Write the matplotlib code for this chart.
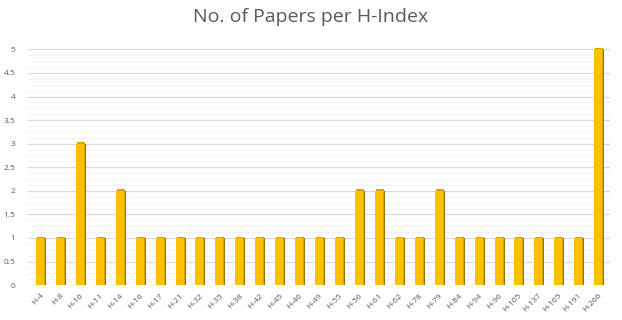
import numpy as np
import matplotlib
matplotlib.use("Agg")
import matplotlib.pyplot as plt

labels = ["H-4", "H-8", "H-10", "H-11", "H-14", "H-16", "H-17", "H-21", "H-32", "H-35",
          "H-38", "H-42", "H-45", "H-46", "H-49", "H-55", "H-56", "H-61", "H-62", "H-78",
          "H-79", "H-84", "H-94", "H-96", "H-105", "H-137", "H-165", "H-191", "H-266"]
papers = [1, 1, 3, 1, 2, 1, 1, 1, 1, 1,
          1, 1, 1, 1, 1, 1, 2, 2, 1, 1,
          2, 1, 1, 1, 1, 1, 1, 1, 5]

plt.rcParams['font.family'] = ['Open Sans', 'DejaVu Sans']

fig = plt.figure(figsize=(6.22, 3.2), dpi=100)
ax = fig.add_axes([0.045, 0.109, 0.936, 0.744])

x = np.arange(len(labels))
w = 0.4

# minor/major grid of the back wall
for v in np.arange(0, 5.01, 0.125):
    ax.axhline(v, color="#f0f0f0", lw=0.6, zorder=0)
for v in np.arange(0, 5.01, 0.5):
    ax.axhline(v, color="#d9d9d9", lw=0.9, zorder=0)

# side (shadow) face, then front face -> fake 3D column
ax.bar(x + 0.1, papers, width=w, color="#9C7400", zorder=2)
ax.bar(x + 0.05, np.array(papers) + 0.03, width=w, color="#D9A400", zorder=2.5)
ax.bar(x, papers, width=w, color="#FFC000", zorder=3)

ax.set_xlim(-0.6, len(labels) - 0.4)
ax.set_ylim(0, 5.05)
ax.set_yticks(np.arange(0, 5.01, 0.5))
ax.set_yticklabels(["0", "0.5", "1", "1.5", "2", "2.5", "3", "3.5", "4", "4.5", "5"])
ax.set_xticks(x)
ax.set_xticklabels(labels, rotation=45, ha="right", rotation_mode="anchor")
ax.tick_params(axis="both", length=0, labelsize=6, colors="#595959")
ax.tick_params(axis="y", pad=9)
ax.tick_params(axis="x", pad=5)
for s in ax.spines.values():
    s.set_visible(False)

fig.suptitle("No. of Papers per H-Index", y=0.975, fontsize=14, color="#595959")

fig.savefig("out.png", dpi=100)
